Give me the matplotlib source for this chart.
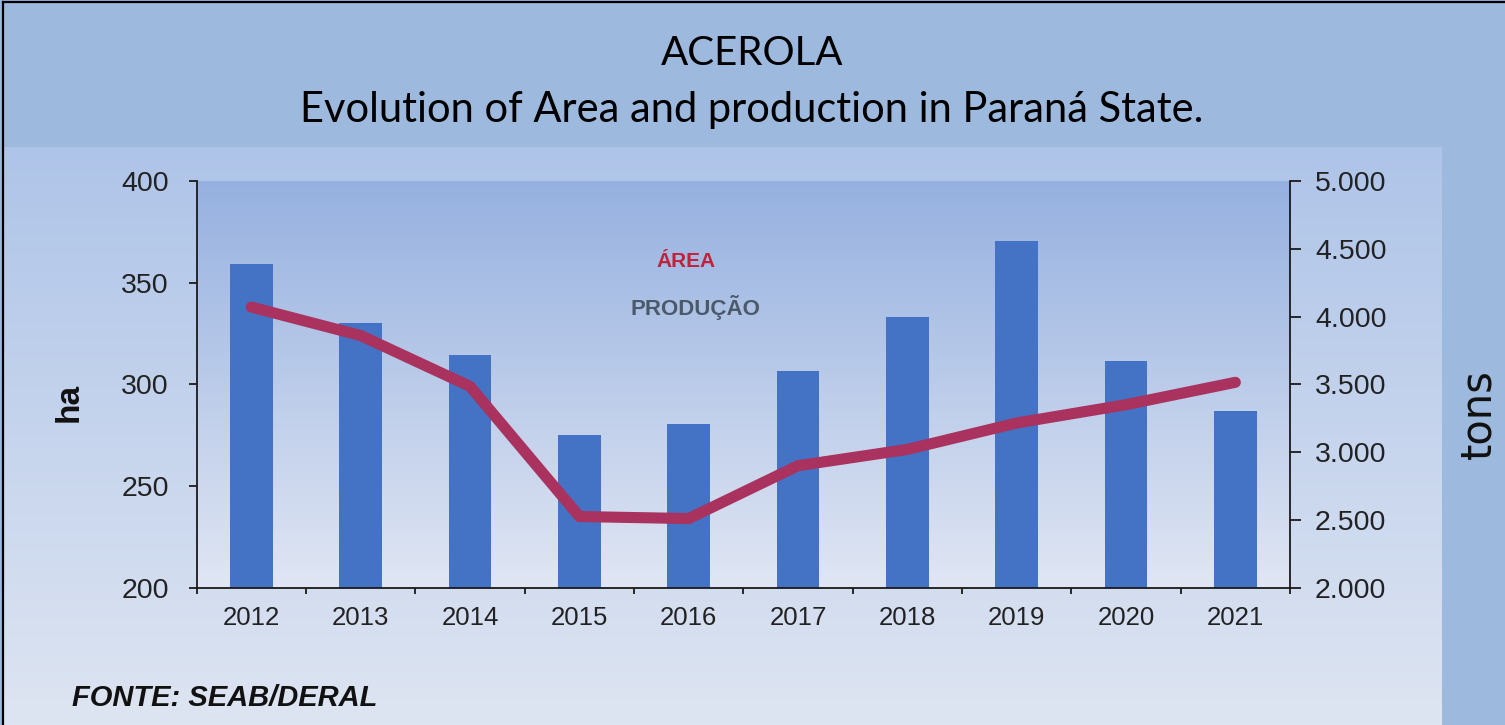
import numpy as np
import matplotlib.pyplot as plt
from matplotlib.lines import Line2D
from matplotlib.colors import LinearSegmentedColormap
from matplotlib.ticker import FuncFormatter, FixedLocator

years = ['2012', '2013', '2014', '2015', '2016', '2017', '2018', '2019', '2020', '2021']
producao_t = [4390, 3950, 3720, 3130, 3210, 3600, 3995, 4555, 3670, 3300]   # bars, right axis (tons)
area_ha = [338, 324, 299, 235, 234, 260, 268, 281, 290, 301]                # line, left axis (ha)

W, H = 1505, 725


def fx(x):
    return x / W


def fy(y):
    return 1 - y / H


fig = plt.figure(figsize=(W / 100, H / 100), dpi=100, facecolor='#9DB9DE')

# inner light panel with vertical gradient
bg = fig.add_axes([fx(4), 0, fx(1442) - fx(4), fy(147)])
bg.imshow(np.linspace(0, 1, 256).reshape(-1, 1), aspect='auto', extent=[0, 1, 0, 1],
          cmap=LinearSegmentedColormap.from_list('p', ['#AEC4E8', '#DEE5F2']))
bg.set_axis_off()

# plot area
x0, x1, y0, y1 = 196.7, 1290, 181, 587.7
rect = [fx(x0), fy(y1), fx(x1) - fx(x0), fy(y0) - fy(y1)]
pbg = fig.add_axes(rect)
pbg.imshow(np.linspace(0, 1, 256).reshape(-1, 1), aspect='auto', extent=[0, 1, 0, 1],
           cmap=LinearSegmentedColormap.from_list('q', ['#96B1E0', '#E0E6F3']))
pbg.set_axis_off()

ax = fig.add_axes(rect)
ax2 = ax.twinx()
ax.set_zorder(ax2.get_zorder() + 1)
ax.patch.set_visible(False)
ax2.patch.set_visible(False)

xs = np.arange(len(years))
ax2.bar(xs, producao_t, width=0.39, color='#4472C4', zorder=2)
ax.plot(xs, area_ha, color='#A9325F', lw=8, solid_capstyle='round', solid_joinstyle='round', zorder=3)

ax.set_xlim(-0.5, len(years) - 0.5)
ax.set_ylim(200, 400)
ax.set_yticks(np.arange(200, 401, 50))
ax2.set_ylim(2000, 5000)
ax2.set_yticks(np.arange(2000, 5001, 500))
ax2.yaxis.set_major_formatter(FuncFormatter(lambda v, p: f'{int(v):,}'.replace(',', '.')))

ax.xaxis.set_major_locator(FixedLocator(np.arange(-0.5, len(years), 1.0)))
ax.xaxis.set_minor_locator(FixedLocator(xs))
ax.set_xticklabels([])
ax.set_xticklabels(years, minor=True)
ax.tick_params(axis='x', which='major', direction='out', length=4.5, width=1.3, color='#1a1a1a')
ax.tick_params(axis='x', which='minor', length=0, pad=13, labelsize=18.5, labelcolor='#222222')
ax.tick_params(axis='y', direction='out', length=6, width=1.3, color='#1a1a1a', pad=14,
               labelsize=20.5, labelcolor='#222222')
ax2.tick_params(axis='y', direction='out', length=8, width=1.3, color='#1a1a1a', pad=10,
                labelsize=20.5, labelcolor='#222222')

for a in (ax, ax2):
    a.spines['top'].set_visible(False)
    for s in ('left', 'right', 'bottom'):
        a.spines[s].set_linewidth(1.3)
        a.spines[s].set_color('#1a1a1a')
ax.spines['right'].set_visible(False)
ax2.spines['left'].set_visible(False)
ax2.spines['bottom'].set_visible(False)

for lab in ax.get_xticklabels(minor=True) + ax.get_yticklabels() + ax2.get_yticklabels():
    lab.set_fontfamily('Liberation Sans')

# titles
fig.text(fx(752), fy(65), 'ACEROLA', ha='center', va='baseline', fontsize=29, family='Lato')
fig.text(fx(752), fy(122), 'Evolution of Area and production in Paraná State.', ha='center',
         va='baseline', fontsize=30, family='Lato')

# series labels
fig.text(fx(686), fy(267), 'ÁREA', ha='center', va='baseline', fontsize=15, fontweight='bold',
         color='#C0223B', family='Liberation Sans')
fig.text(fx(695), fy(315), 'PRODUÇÃO', ha='center', va='baseline', fontsize=16, fontweight='bold',
         color='#4B5A6B', family='Liberation Sans')

# axis titles
fig.text(fx(69), fy(402), 'ha', ha='center', va='center', rotation=90, fontsize=24,
         fontweight='bold', family='Liberation Sans', color='#111111')
fig.text(fx(1478), fy(414), 'tons', ha='center', va='center', rotation=90, fontsize=30,
         family='DejaVu Sans', color='#111111')

fig.text(fx(72), fy(706), 'FONTE: SEAB/DERAL', ha='left', va='baseline', fontsize=21,
         fontweight='bold', style='italic', family='Liberation Sans', color='#111111')

# black frame on left and top
fig.add_artist(Line2D([fx(3), fx(3)], [0, fy(2)], color='black', lw=1.6))
fig.add_artist(Line2D([fx(3), 1], [fy(2), fy(2)], color='black', lw=1.6))

fig.savefig('out.png', dpi=100, facecolor=fig.get_facecolor())
